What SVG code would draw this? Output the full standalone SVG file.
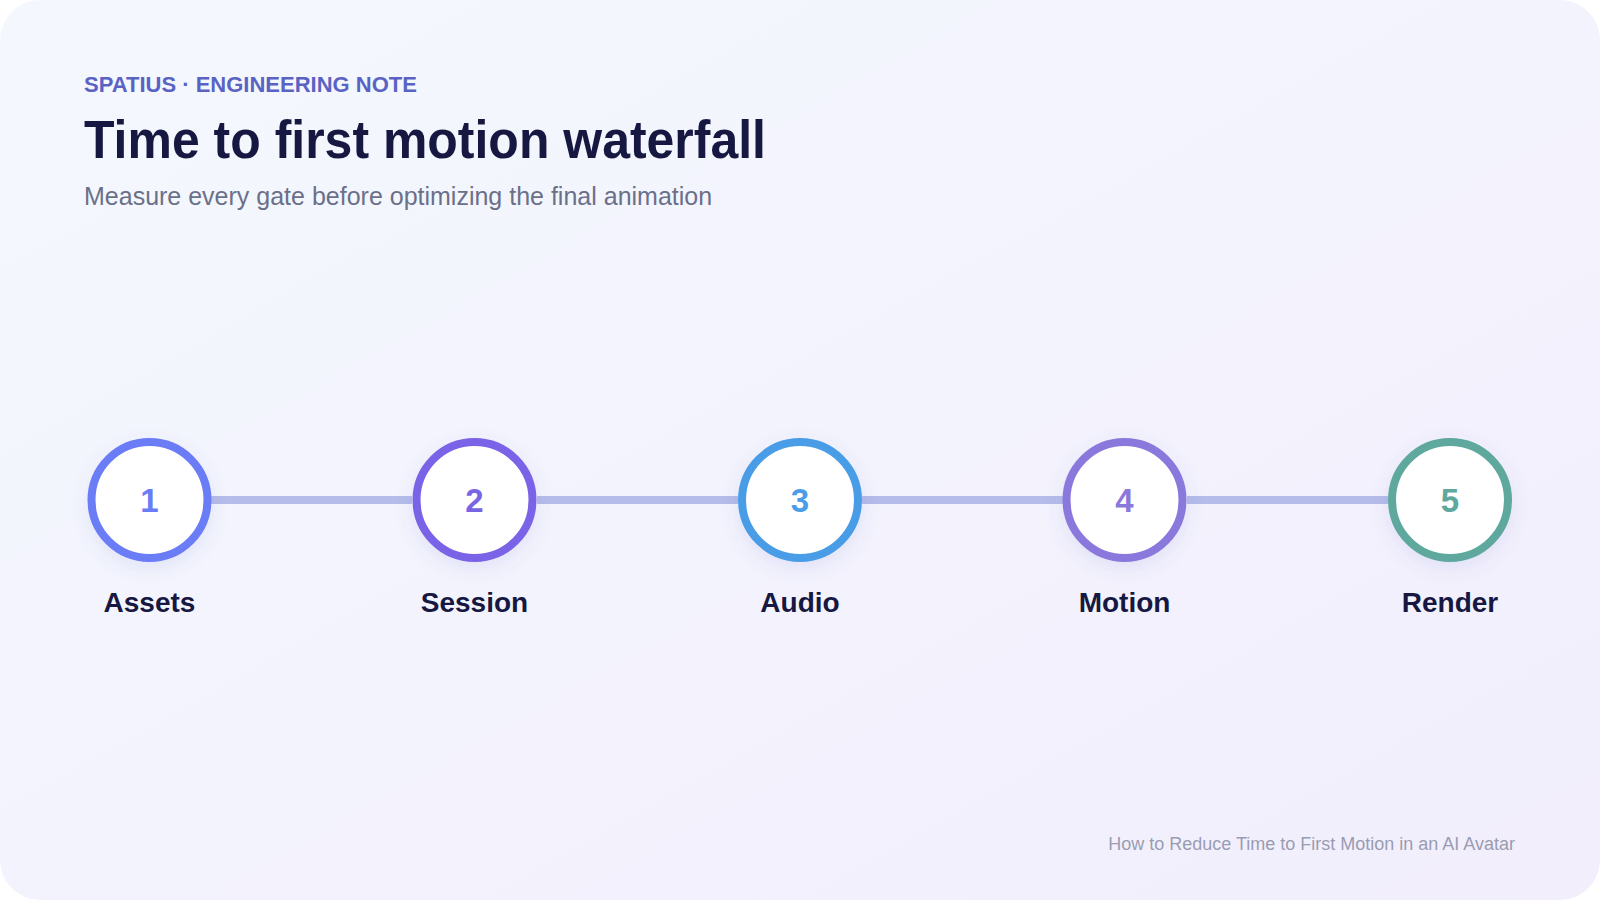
<svg xmlns="http://www.w3.org/2000/svg" width="1600" height="900" viewBox="0 0 1600 900">
  <defs>
    <linearGradient id="bg" x1="0" y1="0" x2="1" y2="1">
      <stop offset="0" stop-color="#f4f8fe"/>
      <stop offset="1" stop-color="#f2eefc"/>
    </linearGradient>
    <filter id="shadow" x="-40%" y="-40%" width="180%" height="180%">
      <feDropShadow dx="0" dy="6" stdDeviation="9" flood-color="#5a63c8" flood-opacity="0.12"/>
    </filter>
    <style>
      .kicker { font-family: "Liberation Sans", Arial, sans-serif; font-weight: 700; font-size: 22px; fill: #5a63c3; }
      .title { font-family: "Liberation Sans", Arial, sans-serif; font-weight: 700; font-size: 54px; fill: #161842; }
      .sub { font-family: "Liberation Sans", Arial, sans-serif; font-size: 25px; fill: #6b7089; }
      .node circle { fill: #ffffff; stroke-width: 8; filter: url(#shadow); }
      .num { font-family: "Liberation Sans", Arial, sans-serif; font-weight: 700; font-size: 33px; text-anchor: middle; }
      .label { font-family: "Liberation Sans", Arial, sans-serif; font-weight: 700; font-size: 28px; fill: #161842; text-anchor: middle; }
      .foot { font-family: "Liberation Sans", Arial, sans-serif; font-size: 18px; fill: #9a9cb2; text-anchor: end; }
      .conn line { stroke: #b5bce9; stroke-width: 8; }
    </style>
  </defs>
  <rect x="0" y="0" width="1600" height="900" fill="#ffffff"/>
  <rect x="0" y="0" width="1600" height="900" rx="40" ry="40" fill="url(#bg)"/>

  <text class="kicker" x="84" y="92">SPATIUS · ENGINEERING NOTE</text>
  <text class="title" x="84" y="158" textLength="682" lengthAdjust="spacingAndGlyphs">Time to first motion waterfall</text>
  <text class="sub" x="84" y="205">Measure every gate before optimizing the final animation</text>

  <g id="connectors" class="conn">
    <line x1="211" y1="500" x2="412" y2="500"/>
    <line x1="537" y1="500" x2="738" y2="500"/>
    <line x1="862" y1="500" x2="1063" y2="500"/>
    <line x1="1187" y1="500" x2="1388" y2="500"/>
  </g>

  <g id="node-assets" class="node">
    <circle cx="149.5" cy="500" r="58" stroke="#6a7cf6"/>
    <text class="num" x="149.5" y="512" fill="#6a7cf6">1</text>
    <text class="label" x="149.5" y="612">Assets</text>
  </g>
  <g id="node-session" class="node">
    <circle cx="474.5" cy="500" r="58" stroke="#7a64e6"/>
    <text class="num" x="474.5" y="512" fill="#7a64e6">2</text>
    <text class="label" x="474.5" y="612">Session</text>
  </g>
  <g id="node-audio" class="node">
    <circle cx="800" cy="500" r="58" stroke="#4a9de6"/>
    <text class="num" x="800" y="512" fill="#4a9de6">3</text>
    <text class="label" x="800" y="612">Audio</text>
  </g>
  <g id="node-motion" class="node">
    <circle cx="1124.5" cy="500" r="58" stroke="#8a78dc"/>
    <text class="num" x="1124.5" y="512" fill="#8a78dc">4</text>
    <text class="label" x="1124.5" y="612">Motion</text>
  </g>
  <g id="node-render" class="node">
    <circle cx="1450" cy="500" r="58" stroke="#5ea89e"/>
    <text class="num" x="1450" y="512" fill="#5ea89e">5</text>
    <text class="label" x="1450" y="612">Render</text>
  </g>

  <text class="foot" x="1515" y="850">How to Reduce Time to First Motion in an AI Avatar</text>
</svg>
